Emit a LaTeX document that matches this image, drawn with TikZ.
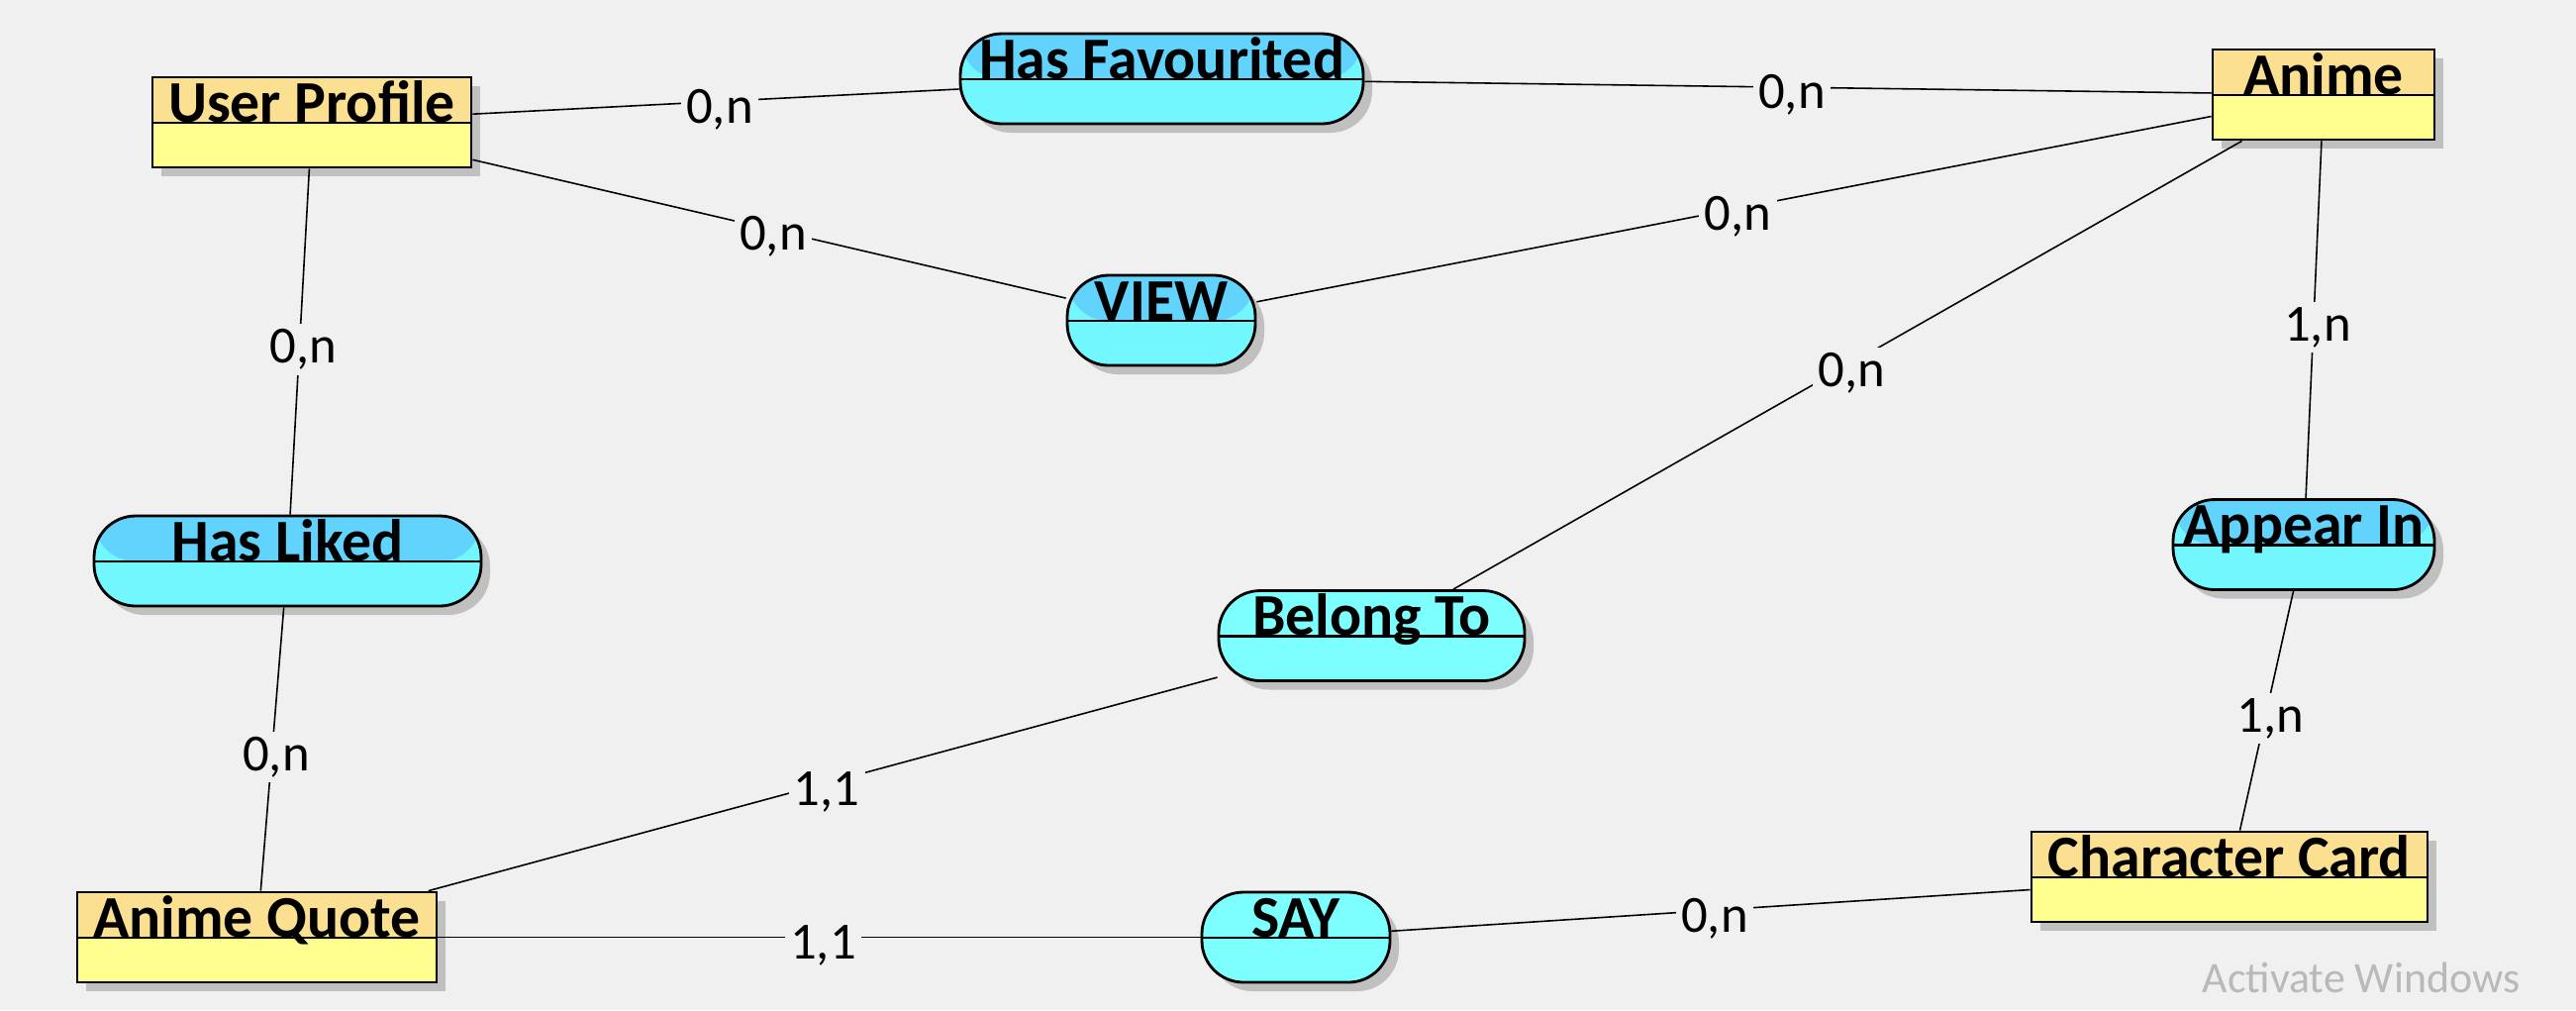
\documentclass[tikz,border=0pt]{standalone}
\usepackage{fontspec}
\setmainfont{Carlito}
\usepackage{tikz}
\usetikzlibrary{calc,positioning,shadows}
\definecolor{canvas}{RGB}{240,240,240}
\definecolor{enthead}{RGB}{250,224,144}
\definecolor{entbody}{RGB}{255,255,143}
\definecolor{assochead}{RGB}{97,211,252}
\definecolor{assocbody}{RGB}{115,247,255}
\definecolor{assoclight}{RGB}{125,255,255}
\definecolor{shade}{RGB}{192,192,192}
\definecolor{watermark}{RGB}{185,185,185}
\tikzset{
	x=0.1mm, y=-0.1mm,
	box/.style={draw, line width=0.8pt, minimum height=9.1mm, inner ysep=0pt, inner xsep=1mm,
		text height=4.5mm, text depth=4.6mm,
		font=\bfseries\fontsize{17}{20}\selectfont,
		drop shadow={shadow xshift=0.9mm, shadow yshift=-0.9mm, fill=shade, opacity=1}},
	part/.style={path picture={
		\fill[#1] (path picture bounding box.north west) rectangle ([yshift=-4.6mm]path picture bounding box.north east);
		\draw[line width=0.8pt] ([yshift=-4.6mm]path picture bounding box.north west) -- ([yshift=-4.6mm]path picture bounding box.north east);}},
	entity/.style={box, fill=entbody, part=enthead},
	assoc/.style={box, rounded corners=4.2mm, fill=assocbody, part=assochead},
	assocplain/.style={box, rounded corners=4.2mm, fill=assoclight, part=assoclight},
	card/.style={fill=canvas, inner sep=1.5pt, xshift=0.4mm, yshift=-0.8mm, font=\fontsize{15}{18}\selectfont},
	link/.style={line width=0.45pt},
}

\begin{document}
\begin{tikzpicture}
	\fill[canvas] (0,0) rectangle (2602,1020);
	\useasboundingbox (0,0) rectangle (2602,1020);

	\node[entity, minimum width=32.2mm] (up) at (315,123.5) {User Profile};
	\node[entity, minimum width=22.4mm] (an) at (2347,95.5) {Anime};
	\node[entity, minimum width=36.3mm] (aq) at (259.5,946.5) {Anime Quote};
	\node[entity, minimum width=40mm] (cc) at (2252,885.5) {Character Card};

	\node[assoc, minimum width=40.7mm] (hf) at (1173.5,79.5) {Has Favourited};
	\node[assoc, minimum width=19mm] (vw) at (1173,323.5) {VIEW};
	\node[assoc, minimum width=39.1mm] (hl) at (290.5,566.5) {Has Liked};
	\node[assoc, minimum width=26.4mm] (ai) at (2327,550) {Appear In};
	\node[assocplain, minimum width=30.9mm] (bt) at (1385.5,642) {Belong To};
	\node[assocplain, minimum width=19mm] (sy) at (1309,946.5) {SAY};

	\node[font=\fontsize{12.5}{15}\selectfont, text=watermark] (wm) at (2385,987) {Activate Windows};

	\draw[link] (up) edge node[card]{0,n} (hf)
		(hf) edge node[card]{0,n} (an)
		(up) edge node[card]{0,n} (vw)
		(vw) edge node[card]{0,n} (an)
		(up) edge node[card]{0,n} (hl)
		(hl) edge node[card]{0,n} (aq)
		(an) edge node[card]{0,n} (bt)
		(an) edge node[card]{1,n} (ai)
		(ai) edge node[card]{1,n} (cc)
		(aq) edge node[card]{1,1} (bt)
		(aq) edge node[card]{1,1} (sy)
		(sy) edge node[card]{0,n} (cc);
\end{tikzpicture}
\end{document}
